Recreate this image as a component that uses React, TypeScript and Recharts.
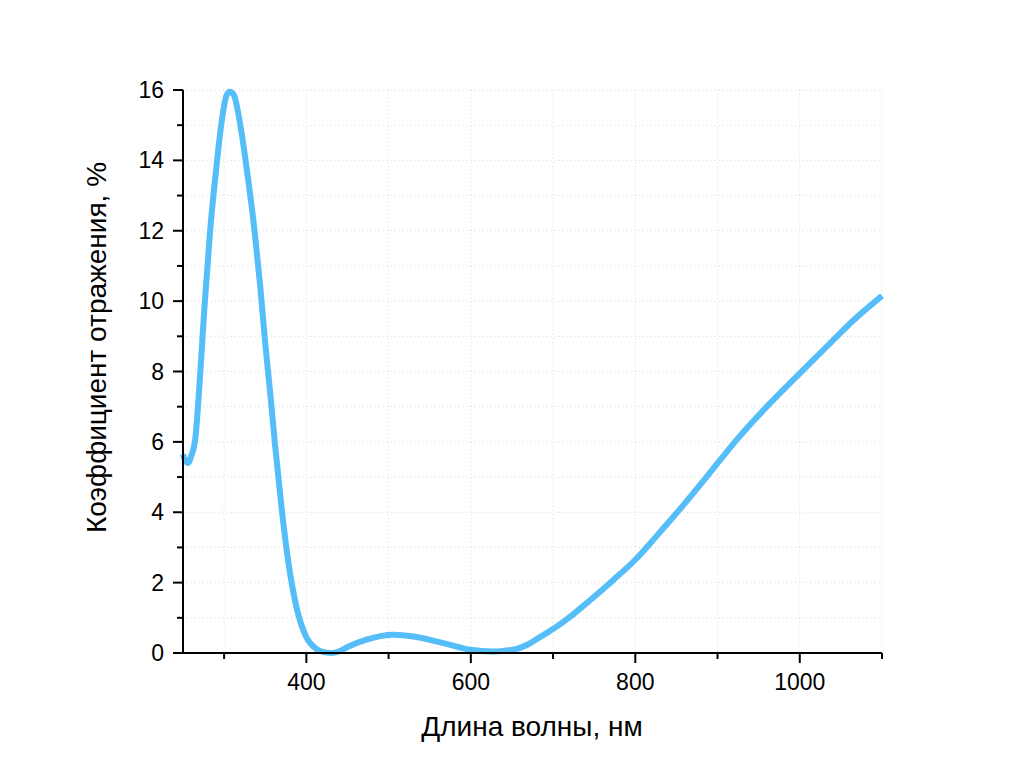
import { LineChart, Line, XAxis, YAxis, CartesianGrid } from 'recharts'

const WAVELENGTH = [
  250, 253, 256, 260, 265, 270, 276, 283, 291, 297, 303, 307, 312, 319, 329, 337, 344, 350,
  356, 362, 370, 378, 388, 400, 412, 420, 430, 440, 450, 473, 490, 506, 520, 542, 563, 575,
  599, 627, 640, 656, 670, 684, 700, 717, 745, 773, 800, 825, 850, 883, 903, 923, 964, 1000,
  1041, 1065, 1100,
]
const REFLECTANCE = [
  5.65, 5.45, 5.4, 5.6, 6.1, 7.6, 9.8, 12.0, 13.9, 15.1, 15.85, 15.95, 15.85, 15.1, 13.5,
  12.0, 10.4, 8.8, 7.4, 5.9, 4.1, 2.6, 1.3, 0.45, 0.12, 0.03, 0.0, 0.05, 0.17, 0.38, 0.48,
  0.52, 0.5, 0.42, 0.3, 0.23, 0.09, 0.04, 0.06, 0.12, 0.25, 0.45, 0.68, 0.96, 1.5, 2.07, 2.65,
  3.3, 3.97, 4.9, 5.48, 6.05, 7.1, 7.95, 8.9, 9.45, 10.15,
]

const X_TICKS = [300, 400, 500, 600, 700, 800, 900, 1000, 1100]
const Y_TICKS = [0, 1, 2, 3, 4, 5, 6, 7, 8, 9, 10, 11, 12, 13, 14, 15, 16]

const X_TITLE = 'Длина волны, нм'
const Y_TITLE = 'Коэффициент отражения, %'

const data = WAVELENGTH.map((w, i) => ({ w, r: REFLECTANCE[i] }))

const FONT = '"Liberation Sans", Arial, sans-serif'

function XTick(props: any) {
  const { x, y, payload } = props
  const major = payload.value % 200 === 0
  return (
    <g>
      <line x1={x} x2={x} y1={y} y2={y + (major ? 10 : 6)} stroke="#000" strokeWidth={2} />
      {major && (
        <text x={x} y={y + 37} textAnchor="middle" fontSize={23} fontFamily={FONT} fill="#000">
          {payload.value}
        </text>
      )}
    </g>
  )
}

function YTick(props: any) {
  const { x, y, payload } = props
  const major = payload.value % 2 === 0
  return (
    <g>
      <line x1={x} x2={x - (major ? 10 : 6)} y1={y} y2={y} stroke="#000" strokeWidth={2} />
      {major && (
        <text x={x - 19} y={y + 8} textAnchor="end" fontSize={23} fontFamily={FONT} fill="#000">
          {payload.value}
        </text>
      )}
    </g>
  )
}

export default function App() {
  return (
    <div style={{ position: 'relative', width: 1008, height: 768, background: '#fff' }}>
      <LineChart width={1008} height={768} data={data} margin={{ top: 82, right: 134, bottom: 0, left: 0 }}>
        <CartesianGrid stroke="#dadada" strokeDasharray="1 3" />
        <XAxis
          dataKey="w"
          type="number"
          domain={[250, 1100]}
          ticks={X_TICKS}
          interval={0}
          height={123}
          tickSize={0}
          tickMargin={0}
          tickLine={false}
          axisLine={{ stroke: '#000', strokeWidth: 2 }}
          tick={XTick}
        />
        <YAxis
          type="number"
          domain={[0, 16]}
          ticks={Y_TICKS}
          interval={0}
          width={175}
          tickSize={0}
          tickMargin={0}
          tickLine={false}
          axisLine={{ stroke: '#000', strokeWidth: 2 }}
          tick={YTick}
        />
        <Line
          type="monotone"
          dataKey="r"
          stroke="#55bdf7"
          strokeWidth={6}
          dot={false}
          activeDot={false}
          isAnimationActive={false}
        />
      </LineChart>
      <svg
        width={1008}
        height={768}
        style={{ position: 'absolute', left: 0, top: 0, pointerEvents: 'none' }}
      >
        <text x={524} y={728} textAnchor="middle" fontSize={28} fontFamily={FONT} fill="#000">
          {X_TITLE}
        </text>
        <text
          transform="translate(98,339.5) rotate(-90)"
          textAnchor="middle"
          fontSize={28}
          fontFamily={FONT}
          fill="#000"
        >
          {Y_TITLE}
        </text>
      </svg>
    </div>
  )
}
